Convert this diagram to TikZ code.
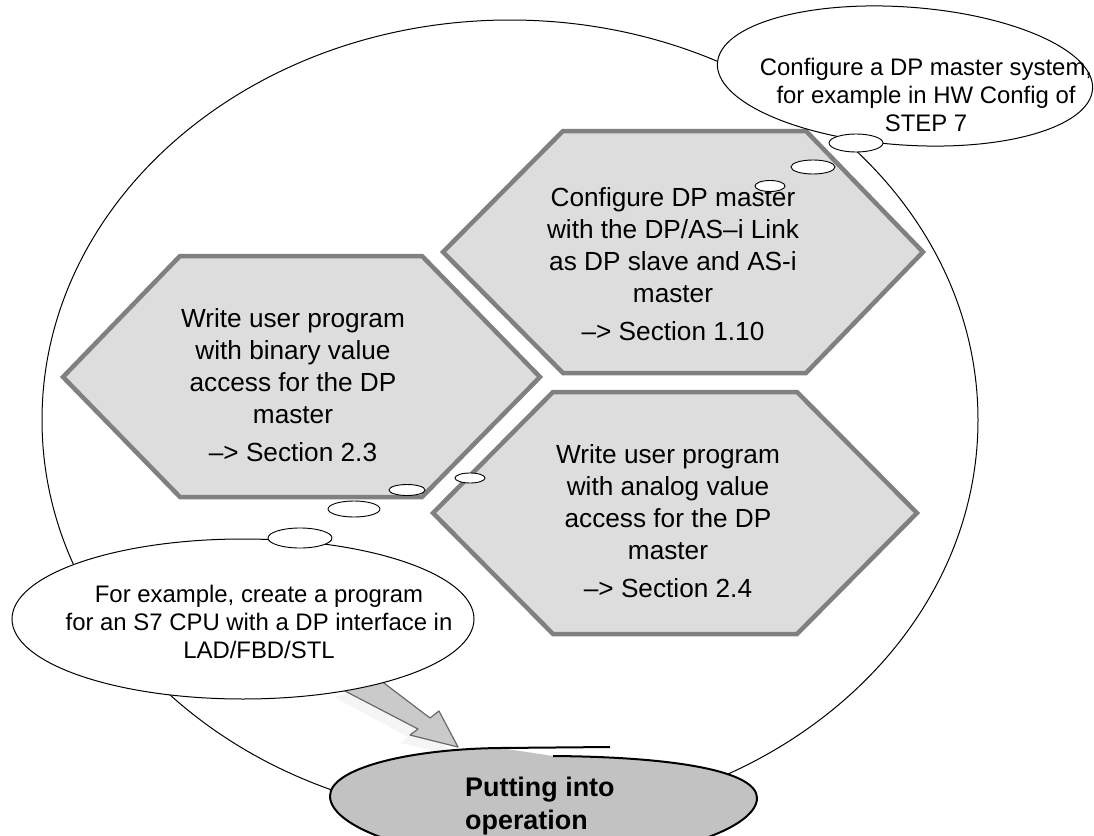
\documentclass[tikz,border=0pt]{standalone}
\usepackage{fontspec}
\setmainfont{Liberation Sans}
\usetikzlibrary{shapes.geometric}

\definecolor{hexfill}{RGB}{221,221,221}
\definecolor{hexline}{RGB}{128,128,128}
\definecolor{goalfill}{RGB}{194,194,194}
\definecolor{arrowfill}{RGB}{202,202,202}
\definecolor{arrowline}{RGB}{105,105,105}

\tikzset{
  hexbox/.style={fill=hexfill, draw=hexline, line width=4.5bp, line join=miter},
  steptext/.style={align=center, font=\fontsize{26.3}{32}\selectfont, inner sep=0pt},
  cloud/.style={fill=white, draw=black, line width=1bp},
  notetext/.style={align=center, font=\fontsize{24}{28.5}\selectfont, inner sep=0pt},
  bubble/.style={fill=white, draw=black, line width=0.9bp},
  goaltext/.style={align=left, font=\bfseries\fontsize{27}{33}\selectfont, inner sep=0pt},
}

\begin{document}
\begin{tikzpicture}[x=1bp, y=-1bp]
  \useasboundingbox (0,0) rectangle (1094,836);

  % surrounding cycle
  \draw[line width=1bp] (510,420) ellipse [x radius=468, y radius=400];

  % step hexagons
  \path[hexbox] (443,252) -- (563,131) -- (806,131) -- (923,252) -- (806,373) -- (563,373) -- cycle;
  \path[hexbox] (63,377) -- (180,256) -- (422,256) -- (540,377) -- (422,497) -- (180,497) -- cycle;
  \path[hexbox] (433,513) -- (553,392) -- (797,392) -- (917,513) -- (797,634) -- (553,634) -- cycle;

  \node[steptext] (cfg) at (673,264)
    {Configure DP master\\with the DP/AS–i Link\\as DP slave and AS-i\\master\\[6bp]–> Section 1.10};
  \node[steptext] (bin) at (293,385)
    {Write user program\\with binary value\\access for the DP\\master\\[6bp]–> Section 2.3};
  \node[steptext] (ana) at (668,521)
    {Write user program\\with analog value\\access for the DP\\master\\[6bp]–> Section 2.4};

  % arrow towards commissioning, with its soft shadow
  \coordinate (arrS1) at (343,690);
  \coordinate (arrS2) at (380,680);
  \coordinate (arrTip) at (458,747);
  \fill[black!4] ([shift={(-9,7)}]arrS1) -- ([shift={(-9,7)}]arrS2) -- (421,725) -- (430,718)
        -- ([shift={(-9,7)}]arrTip) -- (400,743) -- (408,737) -- cycle;
  \path[fill=arrowfill, draw=arrowline, line width=1.2bp, line join=round]
    (arrS1) -- (arrS2) -- (430,718) -- (439,711) -- (arrTip) -- (410,735) -- (418,729) -- cycle;

  % upper callout with its thought bubbles
  \path[cloud, rotate around={-4:(905,76)}] (905,76) ellipse [x radius=188, y radius=69];
  \path[bubble] (856,143) ellipse [x radius=27, y radius=9];
  \path[bubble] (813,167) ellipse [x radius=22, y radius=7];
  \path[bubble] (770,186) ellipse [x radius=15, y radius=5.5];
  \node[notetext] (hwcfg) at (926,95)
    {Configure a DP master system,\\for example in HW Config of\\STEP 7};

  % lower callout with its thought bubbles
  \path[cloud] (243,619) ellipse [x radius=231, y radius=80];
  \path[bubble] (300,538) ellipse [x radius=32, y radius=10];
  \path[bubble] (354,509) ellipse [x radius=26, y radius=8];
  \path[bubble] (407,490) ellipse [x radius=18, y radius=5.5];
  \path[bubble] (470,478) ellipse [x radius=15, y radius=5];
  \node[notetext] (prog) at (259,622)
    {For example, create a program\\for an S7 CPU with a DP interface in\\LAD/FBD/STL};

  % commissioning goal
  \fill[goalfill] (500,748) .. controls (410,749) and (330,768) .. (330,796)
    .. controls (330,830) and (430,862) .. (543,862)
    .. controls (660,862) and (757,830) .. (757,798)
    .. controls (757,772) and (680,757) .. (553,756) -- cycle;
  \draw[line width=2bp] (610,747) -- (500,748) .. controls (410,749) and (330,768) .. (330,796)
    .. controls (330,830) and (430,862) .. (543,862)
    .. controls (660,862) and (757,830) .. (757,798)
    .. controls (757,772) and (680,757) .. (553,756);
  \node[goaltext, anchor=west] (goal) at (465,806) {Putting into\\operation};
\end{tikzpicture}
\end{document}
